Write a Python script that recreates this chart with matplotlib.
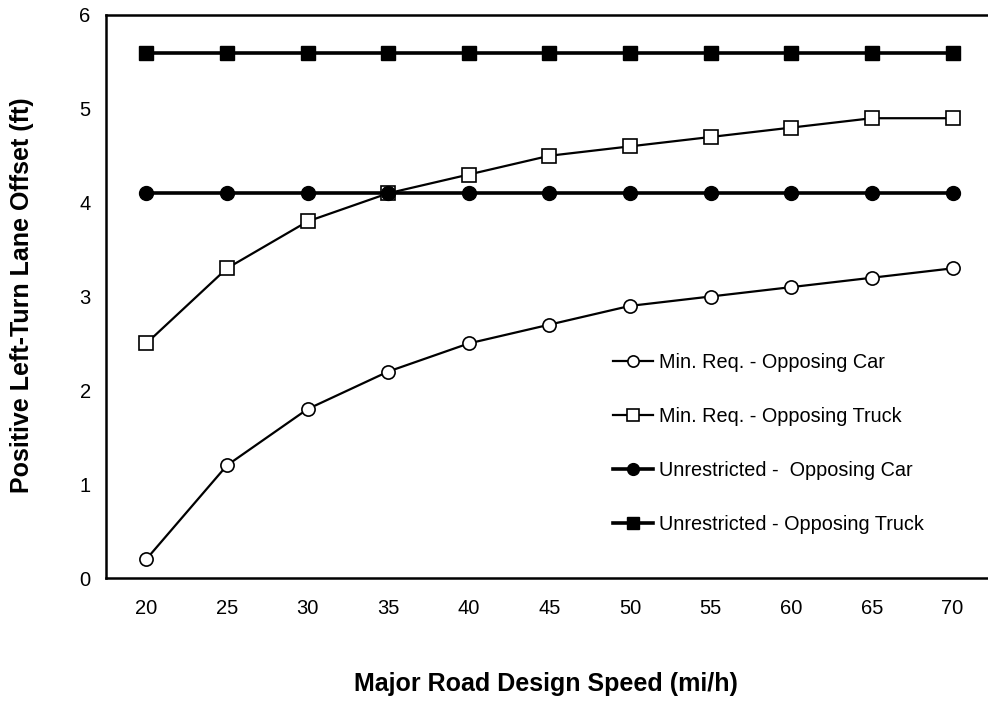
import matplotlib
matplotlib.use("Agg")
import matplotlib.pyplot as plt

plt.rcParams["font.family"] = ["Liberation Sans", "DejaVu Sans"]

speeds = [20, 25, 30, 35, 40, 45, 50, 55, 60, 65, 70]
min_car = [0.2, 1.2, 1.8, 2.2, 2.5, 2.7, 2.9, 3.0, 3.1, 3.2, 3.3]
min_truck = [2.5, 3.3, 3.8, 4.1, 4.3, 4.5, 4.6, 4.7, 4.8, 4.9, 4.9]
unr_car = [4.1] * 11
unr_truck = [5.6] * 11

fig = plt.figure(figsize=(9.88, 7.01), dpi=100)
ax = fig.add_axes([106 / 988, 123 / 701, 1 - 106 / 988, (578 - 15) / 701])

ax.plot(speeds, min_car, color="black", lw=1.6, marker="o", ms=9.5,
        mfc="white", mec="black", mew=1.2, label="Min. Req. - Opposing Car")
ax.plot(speeds, min_truck, color="black", lw=1.6, marker="s", ms=9.5,
        mfc="white", mec="black", mew=1.2, label="Min. Req. - Opposing Truck")
ax.plot(speeds, unr_car, color="black", lw=2.6, marker="o", ms=10,
        mfc="black", mec="black", label="Unrestricted -  Opposing Car")
ax.plot(speeds, unr_truck, color="black", lw=2.6, marker="s", ms=10,
        mfc="black", mec="black", label="Unrestricted - Opposing Truck")

ax.set_xlim(17.5, 72.2)
ax.set_ylim(0, 6)
ax.set_xticks(speeds)
ax.set_yticks(range(7))
ax.tick_params(axis="both", length=0, labelsize=14.5)
ax.tick_params(axis="x", pad=15)
ax.tick_params(axis="y", pad=11)

ax.spines["right"].set_visible(False)
for s in ["left", "top", "bottom"]:
    ax.spines[s].set_linewidth(1.8)

fig.text(546 / 988, 1 - 684 / 701, "Major Road Design Speed (mi/h)",
         ha="center", va="center", fontsize=18, fontweight="bold")
fig.text(22 / 988, 1 - 295 / 701, "Positive Left-Turn Lane Offset (ft)",
         ha="center", va="center", rotation=90, fontsize=18, fontweight="bold")

ax.legend(loc="upper left", bbox_to_anchor=(613 / 988, 1 - 353 / 701),
          bbox_transform=fig.transFigure, frameon=False, fontsize=14.3,
          handlelength=2.0, handletextpad=0.3, labelspacing=1.76,
          markerscale=0.85, borderpad=0, borderaxespad=0)

fig.savefig("out.png", dpi=100)
